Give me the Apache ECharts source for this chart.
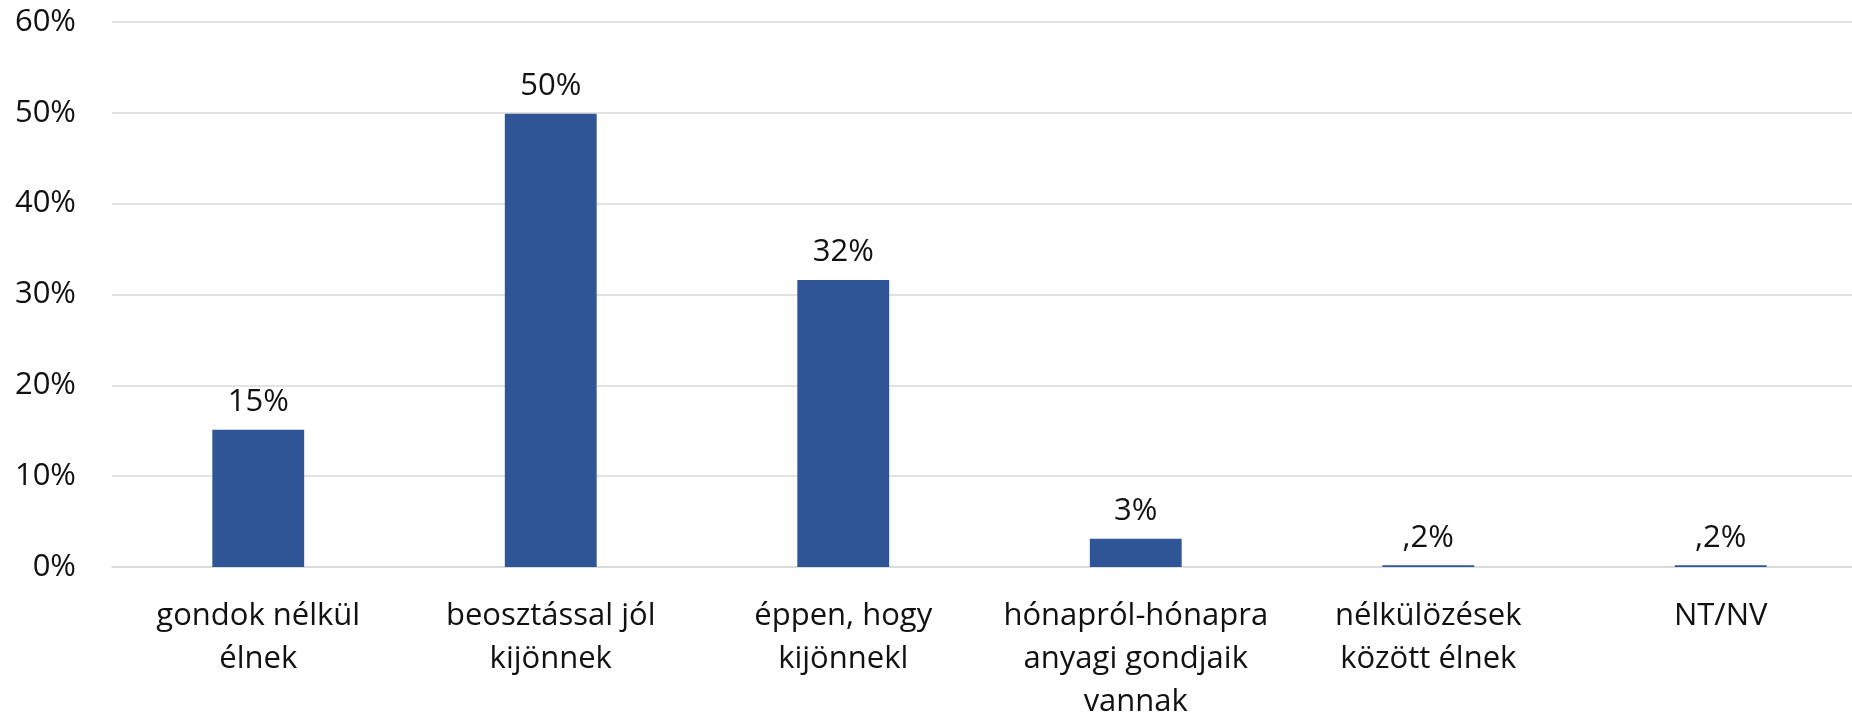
<!DOCTYPE html>
<html>
<head>
<meta charset="utf-8">
<style>
  html, body { margin: 0; padding: 0; background: #ffffff; }
  #chart { width: 1852px; height: 722px; }
</style>
<script src="https://cdn.jsdelivr.net/npm/echarts@6/dist/echarts.min.js"></script>
</head>
<body>
<div id="chart"></div>
<script>
// Anyagi helyzet megoszlása (%)
const categories = [
  'gondok nélkül\nélnek',
  'beosztással jól\nkijönnek',
  'éppen, hogy\nkijönnekl',
  'hónapról-hónapra\nanyagi gondjaik\nvannak',
  'nélkülözések\nközött élnek',
  'NT/NV'
];
const shares = [15.1, 49.9, 31.6, 3.1, 0.2, 0.2];
const yTicks = [0, 10, 20, 30, 40, 50, 60];

const FONT = '"Open Sans", "Noto Sans", sans-serif';

// Hungarian style: whole percents rounded, fractions with a leading comma (",2%")
function pctLabel(v) {
  if (v >= 1) return Math.round(v) + '%';
  return v.toFixed(1).replace(/^0\./, ',') + '%';
}

const chart = echarts.init(document.getElementById('chart'), null, { renderer: 'canvas' });
chart.setOption({
  animation: false,
  backgroundColor: '#ffffff',
  textStyle: { fontFamily: FONT },
  grid: {
    left: 112, top: 22, width: 1755, height: 545,
    containLabel: false,
    outerBoundsMode: 'none'
  },
  xAxis: {
    type: 'category',
    data: categories,
    axisLine: { show: true, lineStyle: { color: '#d9d9d9', width: 1.5 } },
    axisTick: { show: false },
    axisLabel: {
      interval: 0,
      margin: 28,
      color: '#111111',
      fontFamily: FONT,
      fontSize: 31,
      lineHeight: 43,
      align: 'center'
    }
  },
  yAxis: {
    type: 'value',
    min: yTicks[0],
    max: yTicks[yTicks.length - 1],
    interval: 10,
    axisLine: { show: false },
    axisTick: { show: false },
    splitLine: { lineStyle: { color: '#d9d9d9', width: 1.5 } },
    axisLabel: {
      margin: 36,
      color: '#111111',
      fontFamily: FONT,
      fontSize: 31,
      formatter: v => v + '%'
    }
  },
  series: [{
    type: 'bar',
    data: shares,
    barWidth: '31.4%',
    itemStyle: { color: '#2F5597' },
    label: {
      show: true,
      position: 'top',
      distance: 12,
      color: '#111111',
      fontFamily: FONT,
      fontSize: 31,
      formatter: p => pctLabel(p.value)
    }
  }]
});
</script>
</body>
</html>
